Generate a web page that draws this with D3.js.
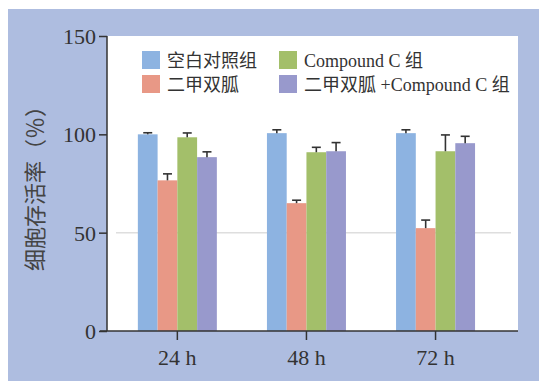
<!DOCTYPE html>
<html><head><meta charset="utf-8">
<script src="https://cdn.jsdelivr.net/npm/d3@7"></script>
<style>body{margin:0;background:#fff}svg{display:block}</style>
</head><body>
<script>
const categories = ["24 h", "48 h", "72 h"];
const seriesNames = ["空白对照组", "二甲双胍", "Compound C 组", "二甲双胍 +Compound C 组"];
const control   = [100.0, 100.6, 100.6];
const metformin = [76.6, 65.0, 52.3];
const compoundC = [98.5, 90.9, 91.4];
const combined  = [88.4, 91.4, 95.5];
const controlErr   = [0.8, 1.7, 1.7];
const metforminErr = [3.3, 1.5, 4.1];
const compoundCErr = [2.2, 2.5, 8.3];
const combinedErr  = [2.7, 4.4, 3.5];
const yTicks = [0, 50, 100, 150];
const colors = ["#8db3e1", "#e89886", "#a3bf6a", "#9899cc"];

const values = [control, metformin, compoundC, combined];
const errs = [controlErr, metforminErr, compoundCErr, combinedErr];

const W = 539, H = 381;
const svg = d3.select("body").append("svg").attr("width", W).attr("height", H);
const serif = "'Liberation Serif','Noto Sans CJK SC',serif";

svg.append("rect").attr("x", 8).attr("y", 9).attr("width", W - 8).attr("height", H - 9).attr("fill", "#aebde0");
svg.append("rect").attr("x", 107).attr("y", 36).attr("width", 411).attr("height", 295).attr("fill", "#fff");

const y = d3.scaleLinear().domain([0, 150]).range([331, 36]);
const x0 = d3.scaleBand().domain(categories).range([112.8, 500.1]).padding(0);
const gw = 79;
const x1 = d3.scaleBand().domain(seriesNames).range([(x0.bandwidth() - gw) / 2, (x0.bandwidth() + gw) / 2]).padding(0);

// gridline at 50
svg.append("line").attr("x1", 116).attr("x2", 511).attr("y1", y(50)).attr("y2", y(50))
  .attr("stroke", "#dedede").attr("stroke-width", 1.5);

// bars
seriesNames.forEach((s, si) => {
  const g = svg.append("g");
  g.selectAll("rect").data(categories).join("rect")
    .attr("x", c => x0(c) + x1(s))
    .attr("width", x1.bandwidth())
    .attr("y", (c, i) => y(values[si][i]))
    .attr("height", (c, i) => y(0) - y(values[si][i]))
    .attr("fill", colors[si]);
  categories.forEach((c, i) => {
    const cx = x0(c) + x1(s) + x1.bandwidth() / 2;
    const top = y(values[si][i] + errs[si][i]);
    g.append("line").attr("x1", cx).attr("x2", cx).attr("y1", y(values[si][i])).attr("y2", top)
      .attr("stroke", "#333").attr("stroke-width", 1.6);
    g.append("line").attr("x1", cx - 4.5).attr("x2", cx + 4.5).attr("y1", top).attr("y2", top)
      .attr("stroke", "#333").attr("stroke-width", 1.6);
  });
});

// y axis
const yAxis = svg.append("g").attr("transform", "translate(107,0)")
  .call(d3.axisLeft(y).tickValues(yTicks).tickSize(8).tickPadding(3).tickFormat(d3.format("d")));
yAxis.select(".domain").attr("stroke", "#333").attr("stroke-width", 1.5).attr("d", "M0,36V331");
yAxis.selectAll(".tick line").attr("stroke", "#333").attr("stroke-width", 1.5);
yAxis.selectAll(".tick text").attr("fill", "#333").style("font-family", serif).style("font-size", "22px").attr("dy", "0.34em");

// x axis
const xAxis = svg.append("g").attr("transform", "translate(0,331)")
  .call(d3.axisBottom(x0).tickSize(9).tickPadding(9));
xAxis.select(".domain").attr("stroke", "#333").attr("stroke-width", 1.5).attr("d", "M100,0H518");
xAxis.selectAll(".tick line").attr("stroke", "#333").attr("stroke-width", 1.5);
xAxis.selectAll(".tick text").attr("fill", "#333").style("font-family", serif).style("font-size", "22px");

// y label
svg.append("text").attr("transform", "translate(43,183) rotate(-90)")
  .attr("text-anchor", "middle").attr("fill", "#444")
  .style("font-family", "'Noto Sans CJK SC',sans-serif").style("font-size", "22px")
  .text("细胞存活率（％）");

// legend
const legPos = [[142, 51], [142, 75], [279, 51], [279, 75]];
seriesNames.forEach((s, i) => {
  const [lx, ly] = legPos[i];
  svg.append("rect").attr("x", lx).attr("y", ly).attr("width", 18).attr("height", 18).attr("fill", colors[i]);
  svg.append("text").attr("x", lx + 25).attr("y", ly + 16).attr("fill", "#333")
    .style("font-family", serif).style("font-size", "18px").text(s);
});
</script>
</body></html>
